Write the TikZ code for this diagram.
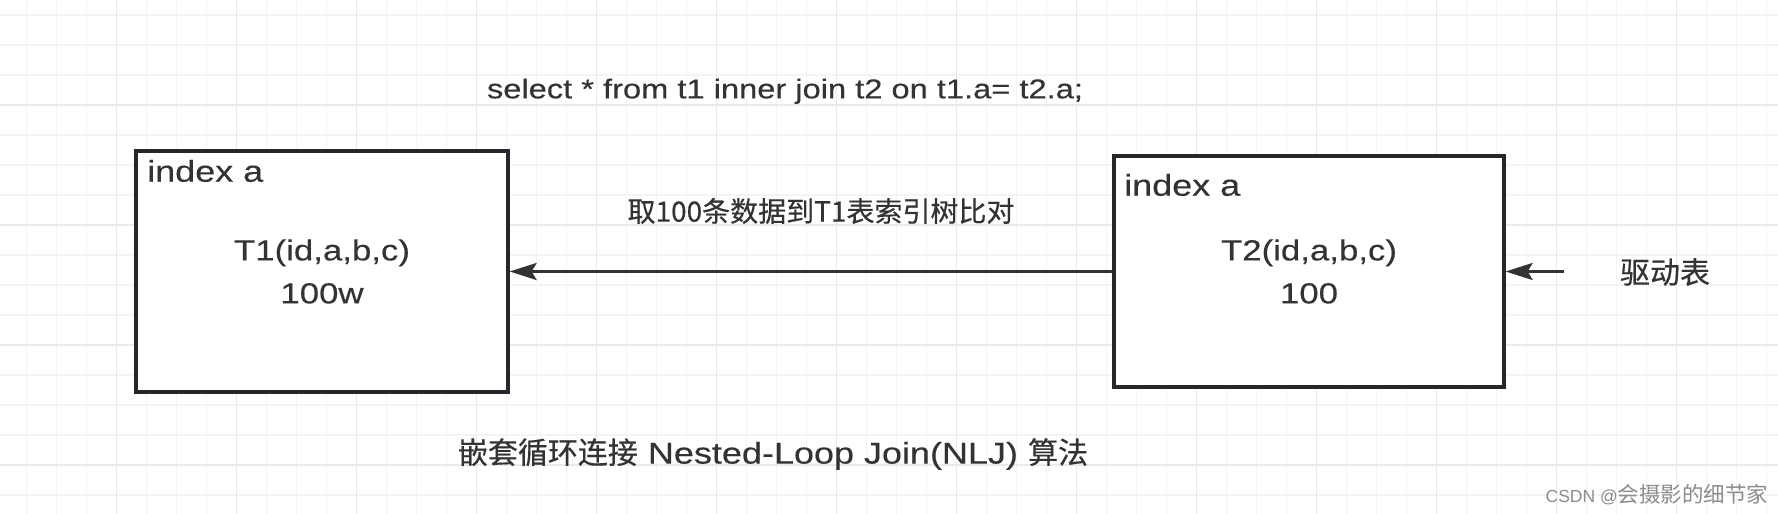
\documentclass[tikz,border=0pt]{standalone}
\usepackage{fontspec}
\setmainfont[FakeStretch=1.2,FakeBold=0.35]{Liberation Sans}
\newfontfamily\plainsf{Liberation Sans}
\newfontfamily\cjk[FakeBold=0.45]{Noto Sans CJK SC}
\newfontfamily\cjkwm{Noto Sans CJK SC}
\usepackage{tikz}
\usetikzlibrary{arrows.meta}
\definecolor{gridminor}{HTML}{F4F4F4}
\definecolor{gridmajor}{HTML}{EAEAEA}
\definecolor{boxline}{HTML}{23282E}
\definecolor{txt}{HTML}{333333}
\definecolor{wmgray}{HTML}{8C8C8C}

\begin{document}
\begin{tikzpicture}[x=1pt,y=-1pt,>={Stealth[length=27pt,width=17pt,inset=5pt]},
  tbl/.style={draw=boxline,line width=3.2pt,fill=white,align=center,text=txt,font=\fontsize{29}{43}\selectfont},
  lbl/.style={text=txt,inner sep=0pt},
  link/.style={->,draw=txt,line width=3pt}]
  \useasboundingbox (0,0) rectangle (1778,514);
  \fill[white] (0,0) rectangle (1778,514);
  % grid paper
  \foreach \k in {0,...,58}{
    \draw[gridminor,line width=1.6pt] ({26.5+30*\k},0) -- ({26.5+30*\k},514);
  }
  \foreach \k in {0,...,16}{
    \draw[gridminor,line width=1.6pt] (0,{15+30*\k}) -- (1778,{15+30*\k});
  }
  \foreach \k in {0,...,13}{
    \draw[gridmajor,line width=1.8pt] ({116.5+120*\k},0) -- ({116.5+120*\k},514);
  }
  \foreach \k in {0,...,3}{
    \draw[gridmajor,line width=1.8pt] (0,{105+120*\k}) -- (1778,{105+120*\k});
  }
  % tables
  \node[tbl,minimum width=372pt,minimum height=241pt] (t1) at (322,271.5) {T1(id,a,b,c)\\100w};
  \node[tbl,minimum width=390pt,minimum height=231pt] (t2) at (1309,271.5) {T2(id,a,b,c)\\100};
  \node[lbl,anchor=base west,font=\fontsize{30}{36}\selectfont] (t1idx) at (147,181.7) {index a};
  \node[lbl,anchor=base west,font=\fontsize{30}{36}\selectfont] (t2idx) at (1124,195.7) {index a};
  % arrows
  \draw[link] (t2.west) -- (t1.east);
  \coordinate (drv) at (1564,271.5);
  \draw[link] (drv) -- (t2.east);
  % texts
  \node[lbl,anchor=base,font=\fontsize{27.2}{33}\selectfont] (sql) at (785,98.3) {select * from t1 inner join t2 on t1.a= t2.a;};
  \node[lbl,font=\cjk\fontsize{28}{34}\selectfont] (fetch) at (821,211) {取100条数据到T1表索引树比对};
  \node[lbl,font=\cjk\fontsize{30}{36}\selectfont] (drvtxt) at (1665,272) {驱动表};
  \node[lbl,font=\fontsize{30}{36}\selectfont] (nlj) at (773,454) {{\cjk 嵌套循环连接} Nested-Loop Join(NLJ) {\cjk 算法}};
  \node[text=wmgray,inner sep=0pt] (wm) at (1657,495) {{\plainsf\fontsize{17.5}{22}\selectfont CSDN @}{\cjkwm\fontsize{21.5}{26}\selectfont 会摄影的细节家}};
\end{tikzpicture}
\end{document}
